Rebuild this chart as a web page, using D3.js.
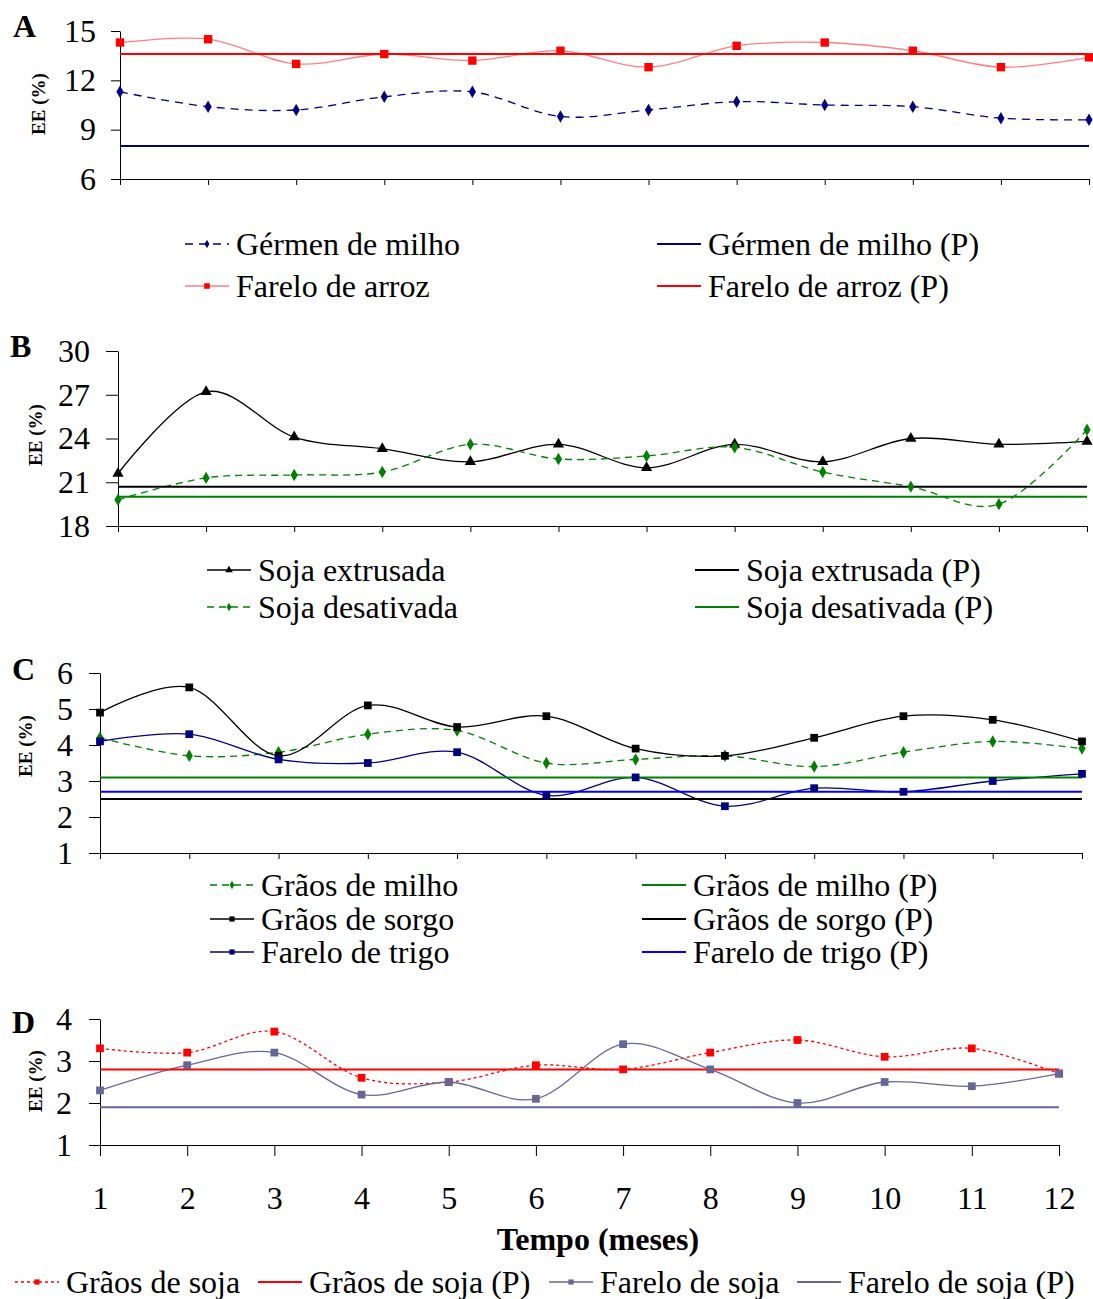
<!DOCTYPE html>
<html>
<head>
<meta charset="utf-8">
<script src="https://cdn.jsdelivr.net/npm/d3@7.9.0/dist/d3.min.js"></script>
<style>
  body { margin: 0; background: #fff; }
  text { font-family: "Liberation Serif", "Times New Roman", serif; fill: #000; }
</style>
</head>
<body>
<svg id="chart" width="1093" height="1299"></svg>
<script>
// months on the x axis
const months = [1, 2, 3, 4, 5, 6, 7, 8, 9, 10, 11, 12];

// Panel A
const germenMilho = [11.3, 10.4, 10.2, 11.0, 11.3, 9.8, 10.2, 10.7, 10.5, 10.4, 9.7, 9.6];
const fareloArroz = [14.3, 14.5, 13.0, 13.6, 13.2, 13.8, 12.8, 14.1, 14.3, 13.8, 12.8, 13.4];
const germenMilhoP = 8.0;
const fareloArrozP = 13.6;
const ticksA = [6, 9, 12, 15];

// Panel B
const sojaExtrusada = [21.6, 27.2, 24.1, 23.3, 22.4, 23.6, 22.0, 23.6, 22.4, 24.0, 23.6, 23.8];
const sojaDesativada = [19.8, 21.3, 21.5, 21.7, 23.6, 22.6, 22.8, 23.4, 21.7, 20.7, 19.5, 24.6];
const sojaExtrusadaP = 20.7;
const sojaDesativadaP = 20.0;
const ticksB = [18, 21, 24, 27, 30];

// Panel C
const graosMilho = [4.2, 3.7, 3.8, 4.3, 4.4, 3.5, 3.6, 3.7, 3.4, 3.8, 4.1, 3.9];
const graosSorgo = [4.9, 5.6, 3.7, 5.1, 4.5, 4.8, 3.9, 3.7, 4.2, 4.8, 4.7, 4.1];
const fareloTrigo = [4.1, 4.3, 3.6, 3.5, 3.8, 2.6, 3.1, 2.3, 2.8, 2.7, 3.0, 3.2];
const graosMilhoP = 3.1;
const graosSorgoP = 2.5;
const fareloTrigoP = 2.7;
const ticksC = [1, 2, 3, 4, 5, 6];

// Panel D
const graosSoja = [3.3, 3.2, 3.7, 2.6, 2.5, 2.9, 2.8, 3.2, 3.5, 3.1, 3.3, 2.7];
const fareloSoja = [2.3, 2.9, 3.2, 2.2, 2.5, 2.1, 3.4, 2.8, 2.0, 2.5, 2.4, 2.7];
const graosSojaP = 2.8;
const fareloSojaP = 1.9;
const ticksD = [1, 2, 3, 4];

const svg = d3.select('#chart');

// panel layout + series styles
const panels = [
  {
    letter: 'A', letterPos: [13, 37], titlePos: [38, 104],
    x0: 120, x1: 1089, yTop: 31, yBot: 179, ticks: ticksA,
    yTickLen: 9, yPad: 15, xTickLen: 6,
    series: [
      { label: 'Gérmen de milho', values: germenMilho, color: '#000080', dash: '8,6', sym: d3.symbolDiamond, size: 45 },
      { label: 'Farelo de arroz', values: fareloArroz, color: '#ff8080', mark: '#ff0000', sym: d3.symbolSquare, size: 70 }
    ],
    refs: [
      { label: 'Gérmen de milho (P)', value: germenMilhoP, color: '#000080' },
      { label: 'Farelo de arroz (P)', value: fareloArrozP, color: '#ff0000' }
    ],
    legend: { cols: [185, 657], rows: [244, 286], order: 'pair' }
  },
  {
    letter: 'B', letterPos: [10, 357], titlePos: [35, 435],
    x0: 118, x1: 1087, yTop: 351, yBot: 526, ticks: ticksB,
    yTickLen: 12, yPad: 16, xTickLen: 6,
    series: [
      { label: 'Soja extrusada', values: sojaExtrusada, color: '#000000', sym: d3.symbolTriangle, size: 55 },
      { label: 'Soja desativada', values: sojaDesativada, color: '#008000', dash: '7,5', sym: d3.symbolDiamond, size: 45 }
    ],
    refs: [
      { label: 'Soja extrusada (P)', value: sojaExtrusadaP, color: '#000000' },
      { label: 'Soja desativada (P)', value: sojaDesativadaP, color: '#008000' }
    ],
    legend: { cols: [207, 695], rows: [570, 607], order: 'pair' }
  },
  {
    letter: 'C', letterPos: [12, 680], titlePos: [25, 746],
    x0: 100, x1: 1082, yTop: 673, yBot: 853, ticks: ticksC,
    yTickLen: 11, yPad: 16, xTickLen: 6,
    series: [
      { label: 'Grãos de milho', values: graosMilho, color: '#008000', dash: '7,5', sym: d3.symbolDiamond, size: 45 },
      { label: 'Grãos de sorgo', values: graosSorgo, color: '#000000', sym: d3.symbolSquare, size: 60 },
      { label: 'Farelo de trigo', values: fareloTrigo, color: '#000080', sym: d3.symbolSquare, size: 60 }
    ],
    refs: [
      { label: 'Grãos de milho (P)', value: graosMilhoP, color: '#008000' },
      { label: 'Grãos de sorgo (P)', value: graosSorgoP, color: '#000000' },
      { label: 'Farelo de trigo (P)', value: fareloTrigoP, color: '#0000ff' }
    ],
    legend: { cols: [210, 642], rows: [885, 919, 952], order: 'pair' }
  },
  {
    letter: 'D', letterPos: [12, 1033], titlePos: [35, 1081],
    x0: 100, x1: 1059, yTop: 1019, yBot: 1145, ticks: ticksD,
    yTickLen: 11, yPad: 17, xTickLen: 11, xLabels: true,
    series: [
      { label: 'Grãos de soja', values: graosSoja, color: '#ff0000', dash: '3,3', sym: d3.symbolSquare, size: 60 },
      { label: 'Farelo de soja', values: fareloSoja, color: '#666699', sym: d3.symbolSquare, size: 60 }
    ],
    refs: [
      { label: 'Grãos de soja (P)', value: graosSojaP, color: '#ff0000' },
      { label: 'Farelo de soja (P)', value: fareloSojaP, color: '#666699' }
    ],
    legend: { cols: [15, 258, 549, 797], rows: [1282], order: 'row' }
  }
];

function drawPanel(p) {
  const x = d3.scaleLinear().domain([1, 12]).range([p.x0, p.x1]);
  const y = d3.scaleLinear().domain(d3.extent(p.ticks)).range([p.yBot, p.yTop]);
  const g = svg.append('g');

  // y axis
  const yAxis = d3.axisLeft(y).tickValues(p.ticks).tickFormat(d3.format('d'))
    .tickSize(p.yTickLen).tickPadding(p.yPad).tickSizeOuter(0);
  const ga = g.append('g').attr('transform', `translate(${p.x0},0)`).call(yAxis);

  // x axis
  const xAxis = d3.axisBottom(x).tickValues(months).tickSize(p.xTickLen)
    .tickSizeOuter(0).tickPadding(30).tickFormat(d3.format('d'));
  if (!p.xLabels) xAxis.tickFormat('');
  const gx = g.append('g').attr('transform', `translate(0,${p.yBot})`).call(xAxis);

  [ga, gx].forEach((a) => {
    a.select('.domain').attr('stroke', '#000').attr('stroke-width', 1);
    a.selectAll('.tick line').attr('stroke', '#000');
    a.selectAll('.tick text').attr('font-size', 32)
      .attr('font-family', '"Liberation Serif", "Times New Roman", serif').attr('fill', '#000');
  });

  // smoothed series lines
  const line = d3.line().x((d, i) => x(months[i])).y((d) => y(d))
    .curve(d3.curveCatmullRom.alpha(0));
  p.series.forEach((s) => {
    g.append('path').datum(s.values).attr('d', line)
      .attr('fill', 'none').attr('stroke', s.color).attr('stroke-width', 1.3)
      .attr('stroke-dasharray', s.dash || null);
  });

  // reference (P) lines
  p.refs.forEach((r) => {
    g.append('path').datum(months)
      .attr('d', d3.line().x((d) => x(d)).y(() => y(r.value)))
      .attr('fill', 'none').attr('stroke', r.color).attr('stroke-width', 2);
  });

  // markers
  p.series.forEach((s) => {
    g.selectAll(null).data(s.values).join('path')
      .attr('transform', (d, i) => `translate(${x(months[i])},${y(d)})`)
      .attr('d', d3.symbol(s.sym, s.size))
      .attr('fill', s.mark || s.color);
  });

  // panel letter
  g.append('text').attr('x', p.letterPos[0]).attr('y', p.letterPos[1])
    .attr('font-size', 32).attr('font-weight', 'bold').text(p.letter);

  // y title
  g.append('text')
    .attr('transform', `translate(${p.titlePos[0]},${p.titlePos[1]}) rotate(-90)`)
    .attr('text-anchor', 'middle').attr('dy', '0.35em')
    .attr('font-size', 19).attr('font-weight', 'bold').text('EE (%)');

  // legend
  let items = [];
  if (p.legend.order === 'pair') {
    p.series.forEach((s, i) => {
      items.push({ item: s, col: 0, row: i });
      items.push({ item: p.refs[i], col: 1, row: i, ref: true });
    });
  } else {
    p.series.forEach((s, i) => {
      items.push({ item: s, col: i * 2, row: 0 });
      items.push({ item: p.refs[i], col: i * 2 + 1, row: 0, ref: true });
    });
  }
  items.forEach(({ item, col, row, ref }) => {
    const lx = p.legend.cols[col];
    const ly = p.legend.rows[row];
    const lg = g.append('g').attr('transform', `translate(${lx},${ly})`);
    lg.append('line').attr('x1', 0).attr('x2', 44).attr('y1', 0).attr('y2', 0)
      .attr('stroke', item.color).attr('stroke-width', ref ? 2 : 1.3)
      .attr('stroke-dasharray', ref ? null : (item.dash || null));
    if (!ref) {
      lg.append('path').attr('transform', 'translate(22,0)')
        .attr('d', d3.symbol(item.sym, item.size * 0.45))
        .attr('fill', item.mark || item.color);
    }
    lg.append('text').attr('x', 51).attr('dy', '0.35em')
      .attr('font-size', 32).text(item.label);
  });
}

panels.forEach(drawPanel);

// x-axis title of the bottom panel
svg.append('text').attr('x', 598).attr('y', 1250).attr('text-anchor', 'middle')
  .attr('font-size', 32).attr('font-weight', 'bold').text('Tempo (meses)');
</script>
</body>
</html>
